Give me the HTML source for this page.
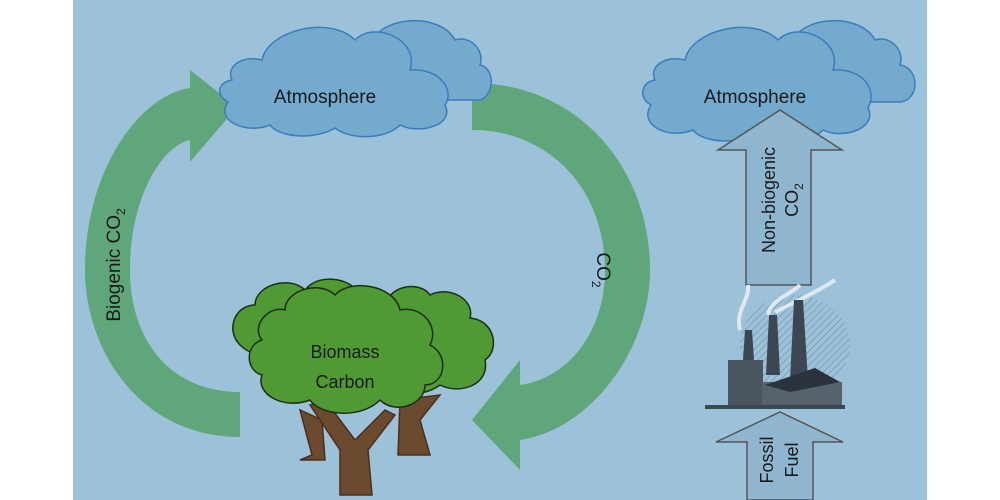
<!DOCTYPE html>
<html><head><style>
html,body{margin:0;padding:0;background:#fff;width:1000px;height:500px;overflow:hidden}
svg{display:block}
text{font-family:"Liberation Sans",sans-serif;fill:#1a1a1a}
</style></head><body>
<svg width="1000" height="500" viewBox="0 0 1000 500">
<defs>
<pattern id="h" width="5" height="5" patternUnits="userSpaceOnUse" patternTransform="rotate(45)">
<line x1="0" y1="0" x2="0" y2="5" stroke="#5a6a78" stroke-width="1"/>
</pattern>
</defs>
<rect x="73" y="0" width="854" height="500" fill="#9cc2da"/>
<path d="M240,437 C140,437 85,350 85,270 C85,170 140,95 190,88 L190,70 L237,107 L190,162 L190,140 C160,147 130,200 130,270 C130,340 170,392 240,392 Z" fill="#5fa67b"/>
<path d="M472,83 C580,83 650,170 650,270 C650,350 590,430 520,440 L520,470 L472,420 L520,360 L520,385 C570,378 605,330 605,270 C605,190 550,130 472,130 Z" fill="#5fa67b"/>
<text transform="translate(120,265) rotate(-90)" text-anchor="middle" font-size="19">Biogenic CO<tspan font-size="12" dy="5">2</tspan></text>
<text transform="translate(597,270) rotate(90)" text-anchor="middle" font-size="19">CO<tspan font-size="12" dy="5">2</tspan></text>
<g fill="#74aacd" stroke="#3b7cbc" stroke-width="1.5">
<path d="M370,45 C380,15 440,12 455,40 C470,35 485,50 480,65 C495,68 495,95 480,100 L410,100 Z"/>
<path d="M232,80 C225,65 245,55 262,60 C268,30 330,15 355,40 C375,20 420,40 410,70 C440,68 455,90 445,105 C455,125 420,135 400,125 C385,140 350,140 335,128 C315,140 280,138 270,125 C245,135 215,120 228,102 C215,95 218,82 232,80 Z"/>
</g>
<text x="325" y="103" text-anchor="middle" font-size="19">Atmosphere</text>
<g fill="#74aacd" stroke="#3b7cbc" stroke-width="1.5">
<path d="M790,45 C800,15 860,12 875,40 C890,35 905,50 900,65 C920,68 920,100 900,102 L830,102 Z"/>
<path d="M655,80 C648,65 668,55 685,60 C691,30 753,15 778,40 C798,20 843,40 833,70 C863,68 878,90 868,108 C878,128 843,140 823,130 C808,145 773,145 758,133 C738,145 703,143 693,130 C668,140 638,125 651,105 C638,98 641,82 655,80 Z"/>
</g>
<text x="755" y="103" text-anchor="middle" font-size="19">Atmosphere</text>
<path d="M746,285 L746,150 L718,150 L780,110 L842,150 L811,150 L811,285 Z" fill="#8fb5cf" stroke="#555" stroke-width="1.5"/>
<text transform="translate(775,200) rotate(-90)" text-anchor="middle" font-size="18">Non-biogenic</text>
<text transform="translate(798,200) rotate(-90)" text-anchor="middle" font-size="18">CO<tspan font-size="12" dy="5">2</tspan></text>
<path d="M747,500 L747,442 L716,442 L780,412 L843,442 L813,442 L813,500 Z" fill="#8fb5cf" stroke="#555" stroke-width="1.5"/>
<text transform="translate(773,460) rotate(-90)" text-anchor="middle" font-size="18">Fossil</text>
<text transform="translate(798,460) rotate(-90)" text-anchor="middle" font-size="18">Fuel</text>
<!-- factory -->
<g>
<ellipse cx="795" cy="345" rx="55" ry="50" fill="url(#h)" opacity="0.7"/>
<path d="M740,330 C735,310 750,300 748,285 M768,315 C770,300 790,295 800,285 M775,312 C800,300 820,290 835,280" stroke="#dfe8ee" stroke-width="4" fill="none"/>
<polygon points="742,375 745,330 752,330 755,375" fill="#3c4752"/>
<polygon points="766,375 769,315 777,315 780,375" fill="#3c4752"/>
<polygon points="790,380 794,300 803,300 808,380" fill="#3c4752"/>
<rect x="728" y="360" width="35" height="48" fill="#4a5560"/>
<rect x="762" y="382" width="80" height="26" fill="#56626c"/>
<polygon points="765,385 815,368 840,382 790,392" fill="#2a333b"/>
<rect x="705" y="405" width="140" height="4" fill="#3c4752"/>
</g>
<g stroke="#4a2f1c" stroke-width="1.5" fill="#6b4a2e">
<path d="M300,410 L312,455 L300,460 L325,460 L322,420 Z"/>
<path d="M400,400 L398,455 L430,455 L420,420 L440,395 Z"/>
<path d="M310,405 L340,450 L340,495 L372,495 L368,450 L395,415 L385,410 L355,440 L325,400 Z"/>
</g>
<g fill="#4f9a33" stroke="#1e2e14" stroke-width="1.5">
<path d="M240,345 C225,330 235,305 255,305 C255,285 290,275 305,290 C320,270 360,280 360,300 C380,310 370,350 340,350 C320,365 260,365 240,345 Z"/>
<path d="M385,310 C385,285 420,280 430,295 C450,285 475,300 470,318 C495,320 500,350 485,360 C490,385 460,395 440,385 C420,400 385,395 385,370 C370,360 370,320 385,310 Z"/>
<path d="M262,340 C250,325 270,305 285,310 C285,290 320,280 335,295 C350,278 395,285 400,310 C420,305 440,325 430,345 C450,355 445,385 425,385 C425,405 395,415 380,400 C360,420 320,415 310,400 C285,410 255,395 262,375 C245,370 245,345 262,340 Z"/>
</g>
<text x="345" y="358" text-anchor="middle" font-size="18">Biomass</text>
<text x="345" y="388" text-anchor="middle" font-size="18">Carbon</text>
</svg>
</body></html>
